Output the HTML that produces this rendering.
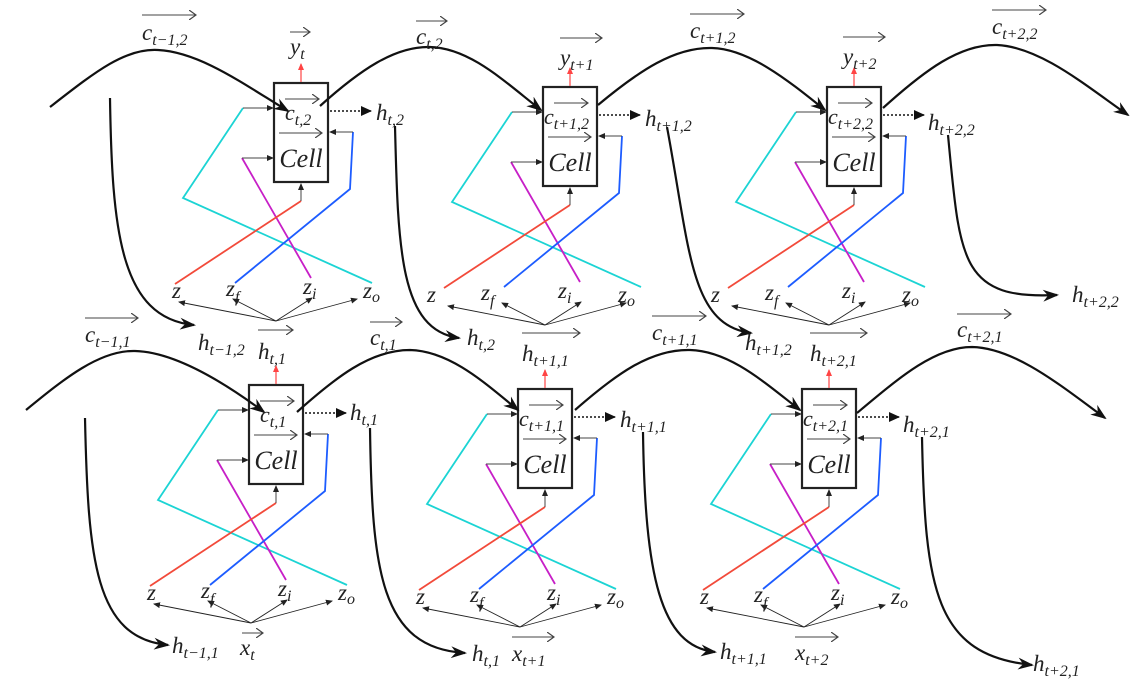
<!DOCTYPE html>
<html><head><meta charset="utf-8"><style>
html,body{margin:0;padding:0;background:#fff;}
svg{display:block;}
text{font-family:"Liberation Serif",serif;font-style:italic;fill:#222;}
.s{font-size:16px;}
</style></head><body>
<svg width="1145" height="691" viewBox="0 0 1145 691" xmlns="http://www.w3.org/2000/svg">
<defs>
<marker id="big" markerWidth="16" markerHeight="12" refX="14" refY="6" orient="auto" markerUnits="userSpaceOnUse"><path d="M0,0 L16,6 L0,12 L5,6 Z" fill="#111"/></marker>
<marker id="sm" markerWidth="7" markerHeight="6" refX="6" refY="3" orient="auto" markerUnits="userSpaceOnUse"><path d="M0,0 L7,3 L0,6 Z" fill="#222"/></marker>
<marker id="smr" markerWidth="7" markerHeight="6" refX="6" refY="3" orient="auto" markerUnits="userSpaceOnUse"><path d="M0,0 L7,3 L0,6 Z" fill="#f44"/></marker>
<marker id="dot" markerWidth="11" markerHeight="10" refX="10" refY="5" orient="auto" markerUnits="userSpaceOnUse"><path d="M0,0 L11,5 L0,10 Z" fill="#111"/></marker>
<marker id="ov" markerWidth="8" markerHeight="10" refX="7" refY="5" orient="auto" markerUnits="userSpaceOnUse"><path d="M0,0 L7,5 L0,10" fill="none" stroke="#444" stroke-width="1.2"/></marker>
<g id="cell">
<rect x="0" y="0" width="54" height="99" fill="none" stroke="#222" stroke-width="2.2"/>
<line x1="27" y1="-1" x2="27" y2="-19" stroke="#f44" stroke-width="1.2" marker-end="url(#smr)"/>
<polyline points="98,200 -91,115 -31,25" fill="none" stroke="#1cd4d4" stroke-width="1.8"/>
<line x1="-31" y1="25" x2="-1" y2="25" stroke="#444" stroke-width="1" marker-end="url(#sm)"/>
<polyline points="37,195 -32,75" fill="none" stroke="#c71fc7" stroke-width="1.8"/>
<line x1="-32" y1="75" x2="-1" y2="75" stroke="#444" stroke-width="1" marker-end="url(#sm)"/>
<polyline points="-99,201 27,118" fill="none" stroke="#f24a3a" stroke-width="1.8"/>
<line x1="27" y1="118" x2="27" y2="101" stroke="#444" stroke-width="1" marker-end="url(#sm)"/>
<polyline points="-39,200 76,106 79,49" fill="none" stroke="#1d5cff" stroke-width="1.8"/>
<line x1="79" y1="49" x2="56" y2="49" stroke="#444" stroke-width="1" marker-end="url(#sm)"/>
<g stroke="#222" stroke-width="0.9" fill="none">
<line x1="2" y1="238" x2="-95" y2="219" marker-end="url(#sm)"/>
<line x1="2" y1="238" x2="-41" y2="216" marker-end="url(#sm)"/>
<line x1="2" y1="238" x2="38" y2="215" marker-end="url(#sm)"/>
<line x1="2" y1="238" x2="83" y2="216" marker-end="url(#sm)"/>
</g>
<line x1="56" y1="28" x2="97" y2="28" stroke="#111" stroke-width="1.6" stroke-dasharray="2,2" marker-end="url(#dot)"/>
<line x1="11" y1="16" x2="45" y2="16" stroke="#444" stroke-width="1.1" marker-end="url(#ov)"/>
<line x1="5" y1="50" x2="48" y2="50" stroke="#444" stroke-width="1.1" marker-end="url(#ov)"/>
</g>
</defs>

<use href="#cell" x="274" y="83"/>
<use href="#cell" x="543" y="87"/>
<use href="#cell" x="827" y="87"/>
<use href="#cell" x="249" y="385"/>
<use href="#cell" x="518" y="389"/>
<use href="#cell" x="802" y="389"/>

<g fill="none" stroke="#111" stroke-width="2.2">
<path d="M50,107 C95,72 125,48 158,50 C200,52 245,85 288,111" marker-end="url(#big)"/>
<path d="M320,106 C360,70 395,46 430,47 C470,48 505,82 541,110" marker-end="url(#big)"/>
<path d="M598,105 C640,70 675,47 712,48 C750,49 790,82 825,110" marker-end="url(#big)"/>
<path d="M883,108 C925,70 960,44 997,45 C1040,47 1085,85 1128,115" marker-end="url(#big)"/>
<path d="M26,410 C65,378 100,350 135,351 C175,352 225,383 264,412" marker-end="url(#big)"/>
<path d="M297,412 C335,378 370,350 410,350 C450,351 485,383 518,410" marker-end="url(#big)"/>
<path d="M575,410 C615,375 650,349 690,350 C730,351 765,383 800,410" marker-end="url(#big)"/>
<path d="M857,413 C900,377 935,347 972,347 C1015,348 1060,385 1105,418" marker-end="url(#big)"/>

<path d="M110,98 C112,230 120,318 194,325" marker-end="url(#big)"/>
<path d="M395,126 C398,250 400,330 459,338" marker-end="url(#big)"/>
<path d="M667,127 C690,250 690,325 751,333" marker-end="url(#big)"/>
<path d="M948,135 C960,260 960,300 1057,295" marker-end="url(#big)"/>
<path d="M85,418 C88,560 95,638 168,645" marker-end="url(#big)"/>
<path d="M370,428 C372,570 380,648 465,653" marker-end="url(#big)"/>
<path d="M643,432 C645,575 660,646 715,652" marker-end="url(#big)"/>
<path d="M922,437 C925,590 935,655 1032,665" marker-end="url(#big)"/>
</g>

<g stroke="#444" stroke-width="1.1" fill="none">
<line x1="142" y1="15" x2="196" y2="15" marker-end="url(#ov)"/>
<line x1="290" y1="32" x2="310" y2="32" marker-end="url(#ov)"/>
<line x1="416" y1="21" x2="447" y2="21" marker-end="url(#ov)"/>
<line x1="560" y1="38" x2="602" y2="38" marker-end="url(#ov)"/>
<line x1="690" y1="14" x2="744" y2="14" marker-end="url(#ov)"/>
<line x1="843" y1="37" x2="885" y2="37" marker-end="url(#ov)"/>
<line x1="992" y1="10" x2="1046" y2="10" marker-end="url(#ov)"/>
<line x1="85" y1="318" x2="138" y2="318" marker-end="url(#ov)"/>
<line x1="258" y1="330" x2="293" y2="330" marker-end="url(#ov)"/>
<line x1="370" y1="322" x2="402" y2="322" marker-end="url(#ov)"/>
<line x1="522" y1="333" x2="580" y2="333" marker-end="url(#ov)"/>
<line x1="652" y1="316" x2="706" y2="316" marker-end="url(#ov)"/>
<line x1="810" y1="333" x2="867" y2="333" marker-end="url(#ov)"/>
<line x1="957" y1="314" x2="1011" y2="314" marker-end="url(#ov)"/>
<line x1="242" y1="633" x2="263" y2="633" marker-end="url(#ov)"/>
<line x1="512" y1="637" x2="554" y2="637" marker-end="url(#ov)"/>
<line x1="795" y1="637" x2="838" y2="637" marker-end="url(#ov)"/>
</g>

<g font-size="23">
<text x="142" y="40">c<tspan class="s" dy="5">t−1,2</tspan></text>
<text x="290" y="54">y<tspan class="s" dy="5">t</tspan></text>
<text x="416" y="44">c<tspan class="s" dy="5">t,2</tspan></text>
<text x="560" y="65">y<tspan class="s" dy="5">t+1</tspan></text>
<text x="690" y="38">c<tspan class="s" dy="5">t+1,2</tspan></text>
<text x="843" y="64">y<tspan class="s" dy="5">t+2</tspan></text>
<text x="992" y="34">c<tspan class="s" dy="5">t+2,2</tspan></text>

<text x="376" y="120">h<tspan class="s" dy="5">t,2</tspan></text>
<text x="645" y="126">h<tspan class="s" dy="5">t+1,2</tspan></text>
<text x="928" y="130">h<tspan class="s" dy="5">t+2,2</tspan></text>

<text x="198" y="350">h<tspan class="s" dy="5">t−1,2</tspan></text>
<text x="467" y="345">h<tspan class="s" dy="5">t,2</tspan></text>
<text x="745" y="350">h<tspan class="s" dy="5">t+1,2</tspan></text>
<text x="1072" y="302">h<tspan class="s" dy="5">t+2,2</tspan></text>

<text x="85" y="342">c<tspan class="s" dy="5">t−1,1</tspan></text>
<text x="258" y="359">h<tspan class="s" dy="5">t,1</tspan></text>
<text x="370" y="345">c<tspan class="s" dy="5">t,1</tspan></text>
<text x="522" y="361">h<tspan class="s" dy="5">t+1,1</tspan></text>
<text x="652" y="340">c<tspan class="s" dy="5">t+1,1</tspan></text>
<text x="810" y="361">h<tspan class="s" dy="5">t+2,1</tspan></text>
<text x="957" y="337">c<tspan class="s" dy="5">t+2,1</tspan></text>

<text x="350" y="420">h<tspan class="s" dy="5">t,1</tspan></text>
<text x="620" y="427">h<tspan class="s" dy="5">t+1,1</tspan></text>
<text x="903" y="432">h<tspan class="s" dy="5">t+2,1</tspan></text>

<text x="172" y="653">h<tspan class="s" dy="5">t−1,1</tspan></text>
<text x="240" y="655">x<tspan class="s" dy="5">t</tspan></text>
<text x="472" y="661">h<tspan class="s" dy="5">t,1</tspan></text>
<text x="512" y="661">x<tspan class="s" dy="5">t+1</tspan></text>
<text x="720" y="659">h<tspan class="s" dy="5">t+1,1</tspan></text>
<text x="795" y="660">x<tspan class="s" dy="5">t+2</tspan></text>
<text x="1033" y="671">h<tspan class="s" dy="5">t+2,1</tspan></text>
</g>

<g font-size="22">
<text x="285" y="120">c<tspan class="s" dy="5">t,2</tspan></text>
<text x="544" y="124">c<tspan class="s" dy="5">t+1,2</tspan></text>
<text x="828" y="124">c<tspan class="s" dy="5">t+2,2</tspan></text>
<text x="260" y="422">c<tspan class="s" dy="5">t,1</tspan></text>
<text x="519" y="426">c<tspan class="s" dy="5">t+1,1</tspan></text>
<text x="803" y="426">c<tspan class="s" dy="5">t+2,1</tspan></text>
</g>
<g font-size="26" text-anchor="middle">
<text x="301" y="167">Cell</text>
<text x="570" y="171">Cell</text>
<text x="854" y="171">Cell</text>
<text x="276" y="469">Cell</text>
<text x="545" y="473">Cell</text>
<text x="829" y="473">Cell</text>
</g>

<g font-size="23">
<text x="172" y="298">z</text><text x="226" y="296">z<tspan class="s" dy="6">f</tspan></text><text x="303" y="294">z<tspan class="s" dy="5">i</tspan></text><text x="363" y="298">z<tspan class="s" dy="4">o</tspan></text>
<text x="427" y="302">z</text><text x="481" y="300">z<tspan class="s" dy="6">f</tspan></text><text x="558" y="298">z<tspan class="s" dy="5">i</tspan></text><text x="618" y="302">z<tspan class="s" dy="4">o</tspan></text>
<text x="711" y="302">z</text><text x="765" y="300">z<tspan class="s" dy="6">f</tspan></text><text x="842" y="298">z<tspan class="s" dy="5">i</tspan></text><text x="902" y="302">z<tspan class="s" dy="4">o</tspan></text>
<text x="147" y="600">z</text><text x="201" y="598">z<tspan class="s" dy="6">f</tspan></text><text x="278" y="596">z<tspan class="s" dy="5">i</tspan></text><text x="338" y="600">z<tspan class="s" dy="4">o</tspan></text>
<text x="416" y="604">z</text><text x="470" y="602">z<tspan class="s" dy="6">f</tspan></text><text x="547" y="600">z<tspan class="s" dy="5">i</tspan></text><text x="607" y="604">z<tspan class="s" dy="4">o</tspan></text>
<text x="700" y="604">z</text><text x="754" y="602">z<tspan class="s" dy="6">f</tspan></text><text x="831" y="600">z<tspan class="s" dy="5">i</tspan></text><text x="891" y="604">z<tspan class="s" dy="4">o</tspan></text>
</g>
</svg>
</body></html>
